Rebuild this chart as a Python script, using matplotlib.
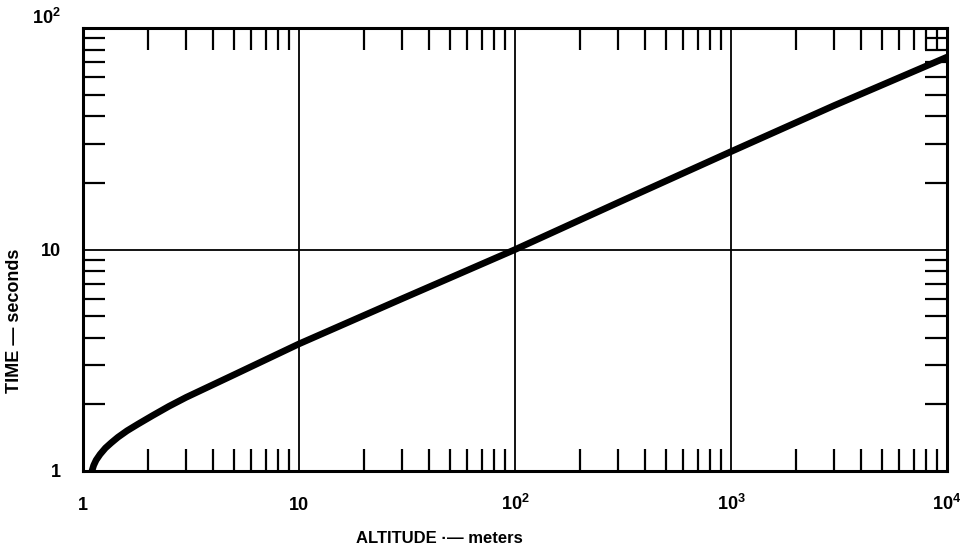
import matplotlib
matplotlib.use('Agg')
import matplotlib.pyplot as plt
from matplotlib.ticker import FixedLocator, FixedFormatter, LogLocator, NullFormatter

# ── Datos ───────────────────────────────────────────────────────────────────
altitude_m = [1.1, 1.12, 1.15, 1.2, 1.27, 1.35, 1.45, 1.6, 1.8, 2.1, 2.5, 3.0,
              5.0, 10, 30, 100, 300, 1000, 3000, 10000]
time_s     = [1.0, 1.06, 1.12, 1.19, 1.27, 1.34, 1.42, 1.52, 1.63, 1.78, 1.96, 2.15,
              2.72, 3.75, 6.0, 10, 16.3, 27.7, 44.7, 74]

x_ticks  = [1, 10, 100, 1000, 10000]
x_labels = ['1', '10', '$10^2$', '$10^3$', '$10^4$']
y_ticks  = [1, 10, 100]
y_labels = ['1', '10', '$10^2$']

# ── Estilo ──────────────────────────────────────────────────────────────────
plt.rcParams['font.family'] = ['Liberation Sans', 'DejaVu Sans']
plt.rcParams['font.weight'] = 'bold'
plt.rcParams['mathtext.fontset'] = 'custom'
plt.rcParams['mathtext.rm'] = 'Liberation Sans:bold'
plt.rcParams['mathtext.bf'] = 'Liberation Sans:bold'
plt.rcParams['mathtext.default'] = 'bf'

fig = plt.figure(figsize=(9.61, 5.46), dpi=100)
ax = fig.add_axes([0.0864, 0.1374, 0.899, 0.811])

ax.plot(altitude_m, time_s, color='black', linewidth=4.8,
        solid_capstyle='round', solid_joinstyle='round', zorder=3)

ax.set_xscale('log')
ax.set_yscale('log')
ax.set_xlim(1, 1e4)
ax.set_ylim(1, 100)

ax.xaxis.set_major_locator(FixedLocator(x_ticks))
ax.xaxis.set_major_formatter(FixedFormatter(x_labels))
ax.yaxis.set_major_locator(FixedLocator(y_ticks))
ax.yaxis.set_major_formatter(FixedFormatter(y_labels))
for axis in (ax.xaxis, ax.yaxis):
    axis.set_minor_locator(LogLocator(base=10, subs=range(2, 10)))
    axis.set_minor_formatter(NullFormatter())

ax.grid(which='major', color='black', linewidth=1.3)
ax.tick_params(axis='y', which='major', length=0, pad=16, labelsize=13)
ax.tick_params(axis='x', which='major', length=0, pad=28, labelsize=13)
ax.tick_params(which='minor', direction='in', length=16, width=1.6,
               top=True, right=True, color='black')
for t in ax.xaxis.get_major_ticks():
    t.label1.set_verticalalignment('baseline')
ax.yaxis.get_major_ticks()[-1].label1.set_verticalalignment('bottom')
for s in ax.spines.values():
    s.set_linewidth(2.2)

ax.set_xlabel('ALTITUDE ·— meters', fontsize=12, fontweight='bold')
ax.xaxis.set_label_coords(0.413, -0.135)
ax.set_ylabel('TIME — seconds', fontsize=13, fontweight='bold')
ax.yaxis.set_label_coords(-0.069, 0.34)

plt.savefig('out.png', dpi=100, facecolor='white')
plt.close(fig)
